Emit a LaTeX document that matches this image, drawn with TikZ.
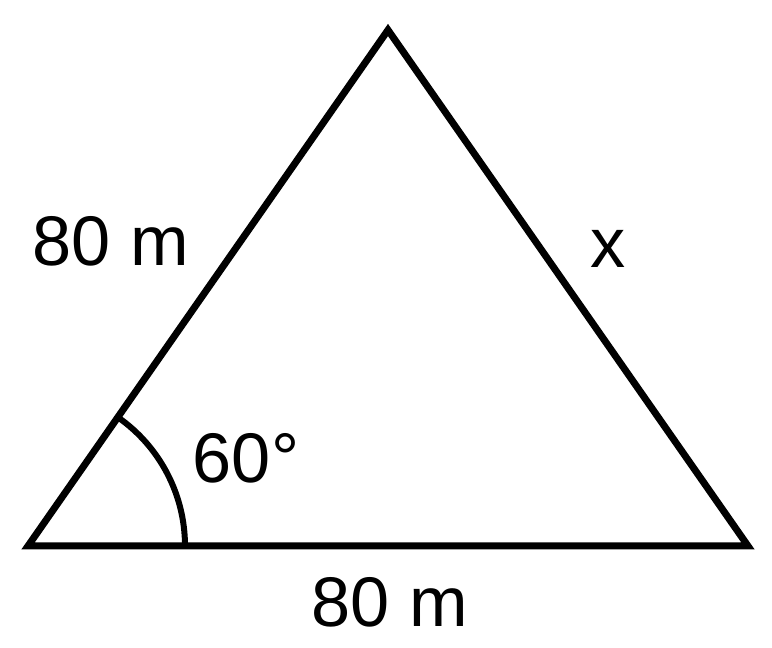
\documentclass[tikz,border=0pt]{standalone}
\usepackage{fontspec}
\setmainfont{Liberation Sans}
\usetikzlibrary{calc}

\begin{document}
\begin{tikzpicture}[x=0.02cm,y=0.02cm,line width=0.14cm,
every node/.style={inner sep=0,font=\fontsize{40}{48}\selectfont}]
\useasboundingbox (0,0) rectangle (772,648);
\coordinate (A) at (28,102);
\coordinate (B) at (388,618);
\coordinate (C) at (748,102);

\draw (A) -- (B) -- (C) -- cycle;
% angle mark
\draw[line width=0.12cm] ($(A)+(157,0)$) arc[start angle=0,end angle=55,radius=157];

\node (lab-ab) at (111,407) {80 m};
\node (lab-bc) at (608,399) {x};
\node (lab-ac) at (390,46) {80 m};
\node (lab-ang) at (246,190) {60°};
\end{tikzpicture}
\end{document}
